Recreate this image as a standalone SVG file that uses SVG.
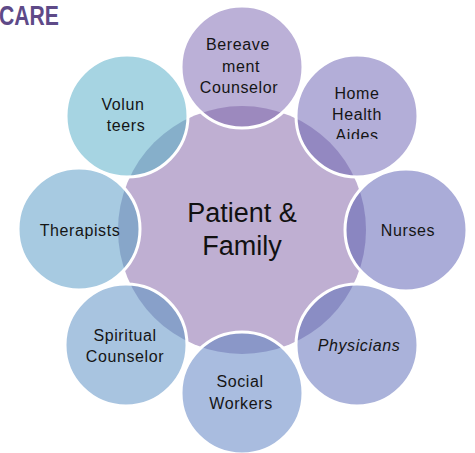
<svg xmlns="http://www.w3.org/2000/svg" width="475" height="453" viewBox="0 0 475 453">
  <defs>
    <clipPath id="centerClip"><circle cx="242" cy="230" r="124"/></clipPath>
    <clipPath id="aidesClip"><rect x="300" y="0" width="120" height="139"/></clipPath>
    <style>
      .lbl{font-family:"Liberation Sans",Arial,sans-serif;font-size:16px;fill:#151515;text-anchor:middle;letter-spacing:0.6px}
      .ring{fill:none;stroke:#ffffff;stroke-width:3}
      .ctr{font-family:"Liberation Sans",Arial,sans-serif;font-size:27px;fill:#111;text-anchor:middle}
    </style>
  </defs>
  <rect width="475" height="453" fill="#ffffff"/>
  <text x="-1" y="25" font-family="'Liberation Sans',Arial,sans-serif" font-weight="bold" font-size="27" fill="#5E4A88" textLength="60" lengthAdjust="spacingAndGlyphs">CARE</text>

  <g id="center">
    <circle cx="242" cy="230" r="124" fill="#BFAFD2"/>
  </g>

  <g id="fills">
    <circle cx="242" cy="67" r="61" fill="#BBB0D7"/>
    <circle cx="357" cy="116" r="61" fill="#B3AED8"/>
    <circle cx="406" cy="230" r="61" fill="#AAACD8"/>
    <circle cx="357" cy="345" r="61" fill="#AAB2DA"/>
    <circle cx="242" cy="393" r="61" fill="#A9BCDF"/>
    <circle cx="126" cy="345" r="61" fill="#A8C4E0"/>
    <circle cx="79" cy="229" r="61" fill="#A7CAE1"/>
    <circle cx="127" cy="116" r="61" fill="#A6D4E2"/>
  </g>
  <g id="overlaps" clip-path="url(#centerClip)">
    <circle cx="242" cy="67" r="61" fill="#9C89BE"/>
    <circle cx="357" cy="116" r="61" fill="#9388C1"/>
    <circle cx="406" cy="230" r="61" fill="#8A86C1"/>
    <circle cx="357" cy="345" r="61" fill="#8A8DC4"/>
    <circle cx="242" cy="393" r="61" fill="#8A97C8"/>
    <circle cx="126" cy="345" r="61" fill="#88A0C9"/>
    <circle cx="79" cy="229" r="61" fill="#87A6C9"/>
    <circle cx="127" cy="116" r="61" fill="#86AFCA"/>
  </g>

  <g id="bereavement">
    <circle class="ring" cx="242" cy="67" r="61"/>
    <text class="lbl" x="238" y="50">Bereave</text>
    <text class="lbl" x="241" y="72">ment</text>
    <text class="lbl" x="239" y="93">Counselor</text>
  </g>
  <g id="home-health">
    <circle class="ring" cx="357" cy="116" r="61"/>
    <text class="lbl" x="357" y="99">Home</text>
    <text class="lbl" x="357" y="120">Health</text>
    <text class="lbl" x="357" y="141" clip-path="url(#aidesClip)">Aides</text>
  </g>
  <g id="nurses">
    <circle class="ring" cx="406" cy="230" r="61"/>
    <text class="lbl" x="408" y="236">Nurses</text>
  </g>
  <g id="physicians">
    <circle class="ring" cx="357" cy="345" r="61"/>
    <text class="lbl" x="359" y="351" font-style="italic">Physicians</text>
  </g>
  <g id="social-workers">
    <circle class="ring" cx="242" cy="393" r="61"/>
    <text class="lbl" x="240" y="387">Social</text>
    <text class="lbl" x="241" y="409">Workers</text>
  </g>
  <g id="spiritual-counselor">
    <circle class="ring" cx="126" cy="345" r="61"/>
    <text class="lbl" x="125" y="341">Spiritual</text>
    <text class="lbl" x="125" y="362">Counselor</text>
  </g>
  <g id="therapists">
    <circle class="ring" cx="79" cy="229" r="61"/>
    <text class="lbl" x="80" y="236">Therapists</text>
  </g>
  <g id="volunteers">
    <circle class="ring" cx="127" cy="116" r="61"/>
    <text class="lbl" x="123" y="110">Volun</text>
    <text class="lbl" x="126" y="131">teers</text>
  </g>

  <g id="center-label">
    <text class="ctr" x="242" y="222">Patient &amp;</text>
    <text class="ctr" x="242" y="255">Family</text>
  </g>
  <g id="connectors"/>
</svg>
